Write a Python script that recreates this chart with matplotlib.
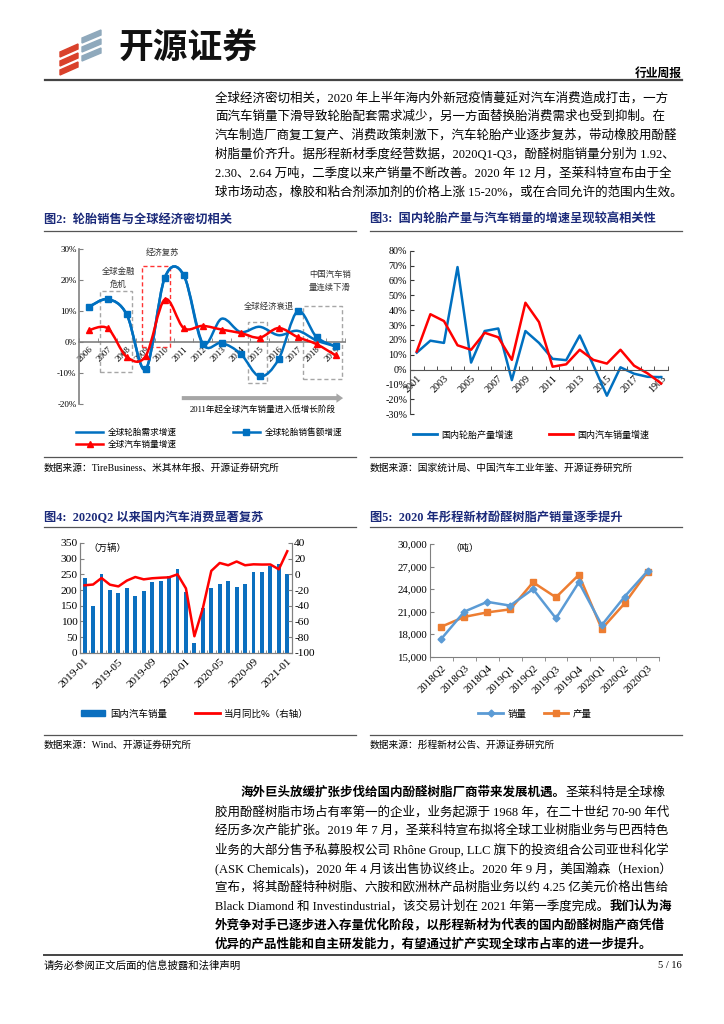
import numpy as np
import matplotlib
matplotlib.use('Agg')
import matplotlib.pyplot as plt
from matplotlib.path import Path
from matplotlib.patches import PathPatch, Rectangle, Polygon, FancyArrow
from matplotlib.lines import Line2D
from matplotlib.text import Annotation

plt.rcParams['font.family'] = ['Liberation Serif', 'Noto Sans CJK SC', 'DejaVu Sans']
plt.rcParams['axes.unicode_minus'] = False
CJK = ['Noto Sans CJK SC', 'DejaVu Sans']

W, H = 724, 1024
fig = plt.figure(figsize=(7.24, 10.24), dpi=100)

# ---------------- data ----------------
# fig 2
years2 = ['2006', '2007', '2008', '2009', '2010', '2011', '2012', '2013',
          '2014', '2015', '2016', '2017', '2018', '2019']
tire_demand = [11.4, 13.9, 9.0, -8.7, 20.8, 21.7, -0.4, 7.6, 3.3, 5.0, 2.3, 3.7, 0.6, -1.3]
tire_sales = [11.4, 13.9, 9.0, -8.7, 20.8, 21.7, -0.4, -0.2, -3.7, -11.0, -5.5, 10.0, 1.7, -1.3]
world_cars = [3.9, 4.5, -4.7, -4.4, 13.8, 4.6, 5.3, 4.1, 3.0, 1.5, 4.6, 1.7, -0.6, -4.2]

# fig 3
years3 = ['2001', '2002', '2003', '2004', '2005', '2006', '2007', '2008', '2009', '2010',
          '2011', '2012', '2013', '2014', '2015', '2016', '2017', '2018', '1903']
cn_tire = [11.5, 19.5, 18.0, 69.0, 4.8, 26.0, 27.7, -7.0, 26.0, 18.0,
           7.3, 6.4, 23.0, 3.0, -17.5, 1.6, -2.7, -4.8, -5.0]
cn_cars = [12.3, 37.3, 32.7, 16.4, 13.4, 24.8, 21.8, 6.6, 45.0, 32.0,
           2.0, 3.6, 13.4, 6.6, 4.1, 13.4, 2.7, -2.5, -9.3]

# fig 4
months4 = ['2019-01', '2019-02', '2019-03', '2019-04', '2019-05', '2019-06', '2019-07',
           '2019-08', '2019-09', '2019-10', '2019-11', '2019-12', '2020-01', '2020-02',
           '2020-03', '2020-04', '2020-05', '2020-06', '2020-07', '2020-08', '2020-09',
           '2020-10', '2020-11', '2020-12', '2021-01']
car_sales = [237, 148, 252, 199, 191, 206, 181, 196, 227, 228, 246, 266, 194, 31,
             143, 207, 219, 230, 211, 219, 257, 257, 277, 283, 250]
car_yoy = [-14, -13, -4.7, -13.2, -15.4, -8, -3.4, -6.4, -5, -4.3, -3.8, 0, -18, -79,
           -43.3, 4.4, 14.5, 11.6, 16.4, 11.6, 12.8, 12.5, 12.6, 6.4, 29.5]

# fig 5
quarters5 = ['2018Q2', '2018Q3', '2018Q4', '2019Q1', '2019Q2', '2019Q3', '2019Q4',
             '2020Q1', '2020Q2', '2020Q3']
resin_sales = [17400, 21000, 22300, 21800, 24000, 20100, 24900, 19200, 23000, 26400]
resin_output = [19000, 20300, 20900, 21300, 24900, 22900, 25900, 18700, 22100, 26300]

para1 = [
    '全球经济密切相关，2020 年上半年海内外新冠疫情蔓延对汽车消费造成打击，一方',
    '面汽车销量下滑导致轮胎配套需求减少，另一方面替换胎消费需求也受到抑制。在',
    '汽车制造厂商复工复产、消费政策刺激下，汽车轮胎产业逐步复苏，带动橡胶用酚醛',
    '树脂量价齐升。据彤程新材季度经营数据，2020Q1-Q3，酚醛树脂销量分别为 1.92、',
    '2.30、2.64 万吨，二季度以来产销量不断改善。2020 年 12 月，圣莱科特宣布由于全',
    '球市场动态，橡胶和粘合剂添加剂的价格上涨 15-20%，或在合同允许的范围内生效。',
]
# (text, bold) pieces per line
para2 = [
    [('海外巨头放缓扩张步伐给国内酚醛树脂厂商带来发展机遇。', True), ('圣莱科特是全球橡', False)],
    [('胶用酚醛树脂市场占有率第一的企业，业务起源于 1968 年，在二十世纪 70-90 年代', False)],
    [('经历多次产能扩张。2019 年 7 月，圣莱科特宣布拟将全球工业树脂业务与巴西特色', False)],
    [('业务的大部分售予私募股权公司 Rhône Group, LLC 旗下的投资组合公司亚世科化学', False)],
    [('(ASK Chemicals)，2020 年 4 月该出售协议终止。2020 年 9 月，美国瀚森（Hexion）', False)],
    [('宣布，将其酚醛特种树脂、六胺和欧洲林产品树脂业务以约 4.25 亿美元价格出售给', False)],
    [('Black Diamond 和 Investindustrial，该交易计划在 2021 年第一季度完成。', False), ('我们认为海', True)],
    [('外竞争对手已逐步进入存量优化阶段，以彤程新材为代表的国内酚醛树脂产商凭借', True)],
    [('优异的产品性能和自主研发能力，有望通过扩产实现全球市占率的进一步提升。', True)],
]

BLUE = '#0070C0'
RED = '#FF0000'
NAVY = '#1B2A7A'
GRAY = '#808080'
BODY = 9.0


def fx(px):
    return px / W


def fy(py):
    return 1 - py / H


def add_axes_px(l, t, r, b):
    return fig.add_axes([fx(l), fy(b), (r - l) / W, (b - t) / H])


def hline(x0, x1, y, lw=1.0, color='#555555'):
    fig.add_artist(Line2D([fx(x0), fx(x1)], [fy(y), fy(y)], lw=lw, color=color))


def smooth_path(xs, ys):
    # Excel-like smoothed line through the data points
    verts = [(xs[0], ys[0])]
    codes = [Path.MOVETO]
    n = len(xs)
    for i in range(n - 1):
        a = i - 1 if i > 0 else i
        d = i + 2 if i + 2 < n else i + 1
        c1 = (xs[i] + (xs[i + 1] - xs[a]) / 6, ys[i] + (ys[i + 1] - ys[a]) / 6)
        c2 = (xs[i + 1] - (xs[d] - xs[i]) / 6, ys[i + 1] - (ys[d] - ys[i]) / 6)
        verts += [c1, c2, (xs[i + 1], ys[i + 1])]
        codes += [Path.CURVE4] * 3
    return Path(verts, codes)


def rotate_xlabels(ax):
    for lbl in ax.get_xticklabels():
        lbl.set_rotation(45)
        lbl.set_ha('right')
        lbl.set_rotation_mode('anchor')


# ---------------- header ----------------
for k in range(3):
    fig.add_artist(Polygon([(fx(60), fy(52 + k * 9)), (fx(78), fy(44 + k * 9)),
                            (fx(78), fy(49 + k * 9)), (fx(60), fy(57 + k * 9))],
                           closed=True, color='#D9412B'))
    fig.add_artist(Polygon([(fx(82), fy(38 + k * 9)), (fx(101), fy(30 + k * 9)),
                            (fx(101), fy(35 + k * 9)), (fx(82), fy(43 + k * 9))],
                           closed=True, color='#8FA9BC'))
fig.text(fx(118), fy(47), '开源证券', fontsize=25, fontweight='bold', family=CJK,
         va='center', ha='left', color='#111111')
fig.text(fx(682), fy(73), '行业周报', fontsize=8.5, fontweight='bold', family=CJK,
         va='center', ha='right')
hline(45, 682, 80, lw=1.6, color='#444444')

# ---------------- paragraph 1 ----------------
for i, line in enumerate(para1):
    fig.text(fx(215), fy(98 + i * 18.9), line, fontsize=BODY, va='center', ha='left')

# ---------------- chart titles ----------------
fig.text(fx(44), fy(220), '图2:  轮胎销售与全球经济密切相关', fontsize=8.8, fontweight='bold',
         color=NAVY, va='center')
fig.text(fx(370), fy(220), '图3:  国内轮胎产量与汽车销量的增速呈现较高相关性', fontsize=8.8,
         fontweight='bold', color=NAVY, va='center')
hline(44, 356, 231, lw=0.9)
hline(370, 682, 231, lw=0.9)
fig.text(fx(44), fy(518), '图4:  2020Q2 以来国内汽车消费显著复苏', fontsize=8.8, fontweight='bold',
         color=NAVY, va='center')
fig.text(fx(370), fy(518), '图5:  2020 年彤程新材酚醛树脂产销量逐季提升', fontsize=8.8,
         fontweight='bold', color=NAVY, va='center')
hline(44, 356, 527, lw=0.9)
hline(370, 682, 527, lw=0.9)

# ---------------- chart 2 ----------------
ax2 = add_axes_px(79.3, 249.3, 345, 404.3)
ax2.spines['bottom'].set_position(('data', 0))
x2 = np.arange(len(years2))
ax2.add_patch(PathPatch(smooth_path(x2, tire_demand), fill=False, edgecolor=BLUE, lw=1.8, zorder=3))
ax2.add_patch(PathPatch(smooth_path(x2, tire_sales), fill=False, edgecolor=BLUE, lw=1.8, zorder=3))
ax2.plot(x2, tire_sales, ls='none', marker='s', ms=4.5, color=BLUE, zorder=4)
ax2.add_patch(PathPatch(smooth_path(x2, world_cars), fill=False, edgecolor=RED, lw=1.8, zorder=3))
ax2.plot(x2, world_cars, ls='none', marker='^', ms=4.5, color=RED, zorder=4)
ax2.set_xlim(-0.5, len(years2) - 0.5)
ax2.set_ylim(-20, 30)
ax2.set_yticks([-20, -10, 0, 10, 20, 30])
ax2.set_yticklabels(['-20%', '-10%', '0%', '10%', '20%', '30%'], fontsize=6.5)
ax2.set_xticks(x2)
ax2.set_xticklabels(years2, fontsize=6.5)
ax2.set_xticks(np.arange(-0.5, len(years2)), minor=True)
ax2.tick_params(axis='x', length=0, pad=2)
ax2.tick_params(axis='x', which='minor', length=3, direction='in', color=GRAY)
ax2.tick_params(axis='y', length=3, direction='in', color=GRAY, pad=2)
for s in ['top', 'right']:
    ax2.spines[s].set_visible(False)
for s in ['left', 'bottom']:
    ax2.spines[s].set_color(GRAY)
    ax2.spines[s].set_linewidth(1.2)
rotate_xlabels(ax2)

# event boxes (x in category index, y in %)
boxes2 = [((0.6, -9.6), 1.7, 26.1, '#A6A6A6'), ((2.8, -1.5), 1.5, 26.0, '#FF3333'),
          ((8.4, -13.1), 1.0, 19.5, '#A6A6A6'), ((11.3, -11.7), 2.05, 23.3, '#A6A6A6')]
for (xy, w, h, c) in boxes2:
    ax2.add_patch(Rectangle(xy, w, h, fill=False, ls=(0, (3, 2)), lw=1.0, edgecolor=c, zorder=2))
ax2.text(3.9, 29.1, '经济复苏', fontsize=6, ha='center', va='center', family=CJK, color='#333333')
ax2.text(1.55, 20.8, '全球金融\n危机', fontsize=6, ha='center', va='center', family=CJK,
         color='#333333', linespacing=1.5)
ax2.text(9.5, 11.6, '全球经济衰退', fontsize=6, ha='center', va='center', family=CJK, color='#333333')
ax2.text(12.7, 19.7, '中国汽车销\n量连续下滑', fontsize=6, ha='center', va='center', family=CJK,
         color='#333333', linespacing=1.5)
ax2.add_patch(FancyArrow(4.9, -18, 8.5, 0, width=1.3, head_width=3.0, head_length=0.35,
                         length_includes_head=True, color='#A6A6A6', clip_on=False, lw=0))
ax2.text(9.15, -21.7, '2011年起全球汽车销量进入低增长阶段', fontsize=6.2, ha='center', va='center',
         clip_on=False)

h_dem = Line2D([], [], color=BLUE, lw=1.8)
h_sal = Line2D([], [], color=BLUE, lw=1.8, marker='s', ms=4.5)
h_car = Line2D([], [], color=RED, lw=1.8, marker='^', ms=4.5)
fig.legend([h_dem, h_car, h_sal], ['全球轮胎需求增速', '全球汽车销量增速', '全球轮胎销售额增速'],
           ncol=2, loc='upper left', bbox_to_anchor=(fx(68), fy(420)), frameon=False,
           prop={'family': CJK, 'size': 6.2}, handlelength=3.2, columnspacing=6.5,
           labelspacing=0.35, handletextpad=0.5)

hline(44, 356, 457, lw=0.9)
fig.text(fx(44), fy(468), '数据来源：TireBusiness、米其林年报、开源证券研究所', fontsize=7, va='center')

# ---------------- chart 3 ----------------
ax3 = add_axes_px(410, 250.7, 668, 414.3)
ax3.spines['bottom'].set_position(('data', 0))
x3 = np.arange(len(years3))
ax3.plot(x3, cn_tire, color=BLUE, lw=1.8)
ax3.plot(x3, cn_cars, color=RED, lw=1.8)
ax3.set_xlim(-0.5, len(years3) - 0.5)
ax3.set_ylim(-30, 80)
ax3.set_yticks(np.arange(-30, 81, 10))
ax3.set_yticklabels(['%d%%' % v for v in range(-30, 81, 10)], fontsize=7.3)
ax3.set_xticks(x3[::2])
ax3.set_xticklabels(years3[::2], fontsize=7.3)
ax3.set_xticks(np.arange(-0.5, len(years3)), minor=True)
ax3.tick_params(axis='x', length=0, pad=3)
ax3.tick_params(axis='x', which='minor', length=3, direction='in', color='#333333')
ax3.tick_params(axis='y', length=3, direction='in', color='#333333', pad=2)
for s in ['top', 'right']:
    ax3.spines[s].set_visible(False)
for s in ['left', 'bottom']:
    ax3.spines[s].set_color('#555555')
rotate_xlabels(ax3)
fig.legend([Line2D([], [], color=BLUE, lw=2), Line2D([], [], color=RED, lw=2)],
           ['国内轮胎产量增速', '国内汽车销量增速'], ncol=2, loc='center left',
           bbox_to_anchor=(fx(405), fy(435)), frameon=False,
           prop={'family': CJK, 'size': 6.5}, handlelength=2.6, columnspacing=4.0,
           handletextpad=0.5)
hline(370, 682, 457, lw=0.9)
fig.text(fx(370), fy(468), '数据来源：国家统计局、中国汽车工业年鉴、开源证券研究所', fontsize=7, va='center')

# ---------------- chart 4 ----------------
ax4 = add_axes_px(80.4, 543, 291.5, 652.7)
x4 = np.arange(len(months4))
ax4.bar(x4, car_sales, width=0.45, color='#0B6FBF', zorder=2)
ax4.set_xlim(-0.5, len(months4) - 0.5)
ax4.set_ylim(0, 350)
ax4.set_yticks(np.arange(0, 351, 50))
ax4.tick_params(axis='y', labelsize=8.2, length=3, direction='in', color=GRAY, pad=2)
ax4.set_xticks(x4[::4])
ax4.set_xticklabels(months4[::4], fontsize=8.2)
ax4.set_xticks(np.arange(-0.5, len(months4)), minor=True)
ax4.tick_params(axis='x', length=0, pad=3)
ax4.tick_params(axis='x', which='minor', length=2, direction='in', color=GRAY)
ax4.text(0.5, 335, '（万辆）', fontsize=6.8, family=CJK, va='center', ha='left')
ax4b = ax4.twinx()
ax4b.plot(x4, car_yoy, color=RED, lw=1.8, zorder=3)
ax4b.set_ylim(-100, 40)
ax4b.set_yticks(np.arange(-100, 41, 20))
ax4b.tick_params(axis='y', labelsize=8.2, length=3, direction='in', color=GRAY, pad=2)
for a in (ax4, ax4b):
    a.spines['top'].set_visible(False)
    for s in ['left', 'right', 'bottom']:
        a.spines[s].set_color(GRAY)
rotate_xlabels(ax4)
fig.legend([Rectangle((0, 0), 1, 1, color='#0B6FBF'), Line2D([], [], color=RED, lw=2)],
           ['国内汽车销量', '当月同比%（右轴）'], ncol=2, loc='center left',
           bbox_to_anchor=(fx(72), fy(714)), frameon=False,
           prop={'family': CJK, 'size': 6.8}, handlelength=2.6, handleheight=0.6,
           columnspacing=3.0, handletextpad=0.5)
hline(44, 356, 735, lw=0.9)
fig.text(fx(44), fy(745), '数据来源：Wind、开源证券研究所', fontsize=7, va='center')

# ---------------- chart 5 ----------------
ax5 = add_axes_px(430, 544, 659, 656.7)
x5 = np.arange(len(quarters5))
ax5.plot(x5, resin_sales, color='#5B9BD5', lw=1.8, marker='D', ms=3.5, zorder=3)
ax5.plot(x5, resin_output, color='#ED7D31', lw=1.8, marker='s', ms=5, zorder=2)
ax5.set_xlim(-0.5, len(quarters5) - 0.5)
ax5.set_ylim(15000, 30000)
ax5.set_yticks(np.arange(15000, 30001, 3000))
ax5.set_yticklabels(['{:,}'.format(v) for v in range(15000, 30001, 3000)], fontsize=7.8)
ax5.tick_params(axis='y', length=3, direction='in', color=GRAY, pad=2)
ax5.set_xticks(x5)
ax5.set_xticklabels(quarters5, fontsize=7.8)
ax5.set_xticks(np.arange(-0.5, len(quarters5)), minor=True)
ax5.tick_params(axis='x', length=0, pad=5)
ax5.tick_params(axis='x', which='minor', length=3, direction='out', color=GRAY)
ax5.text(0.4, 29400, '（吨）', fontsize=6.8, family=CJK, va='center', ha='left')
for s in ['top', 'right']:
    ax5.spines[s].set_visible(False)
for s in ['left', 'bottom']:
    ax5.spines[s].set_color(GRAY)
rotate_xlabels(ax5)
fig.legend([Line2D([], [], color='#5B9BD5', lw=2, marker='D', ms=3.5),
            Line2D([], [], color='#ED7D31', lw=2, marker='s', ms=5)],
           ['销量', '产量'], ncol=2, loc='center left',
           bbox_to_anchor=(fx(470), fy(714)), frameon=False,
           prop={'family': CJK, 'size': 6.8}, handlelength=2.6, columnspacing=1.8,
           handletextpad=0.5)
hline(370, 682, 735, lw=0.9)
fig.text(fx(370), fy(745), '数据来源：彤程新材公告、开源证券研究所', fontsize=7, va='center')

# ---------------- paragraph 2 ----------------
for i, pieces in enumerate(para2):
    y = fy(793 + i * 18.9)
    x0 = fx(241) if i == 0 else fx(215)
    prev = None
    for txt, bold in pieces:
        weight = 'bold' if bold else 'normal'
        if prev is None:
            prev = fig.text(x0, y, txt, fontsize=BODY, va='center', ha='left', fontweight=weight)
        else:
            prev = fig.add_artist(Annotation(txt, xy=(1, 0), xycoords=prev, va='bottom',
                                             ha='left', fontsize=BODY, fontweight=weight))

# ---------------- footer ----------------
hline(44, 682, 955, lw=1.4, color='#444444')
fig.text(fx(44), fy(966), '请务必参阅正文后面的信息披露和法律声明', fontsize=7.5, va='center')
fig.text(fx(682), fy(966), '5 / 16', fontsize=7.5, va='center', ha='right')

fig.savefig('out.png', dpi=100)
